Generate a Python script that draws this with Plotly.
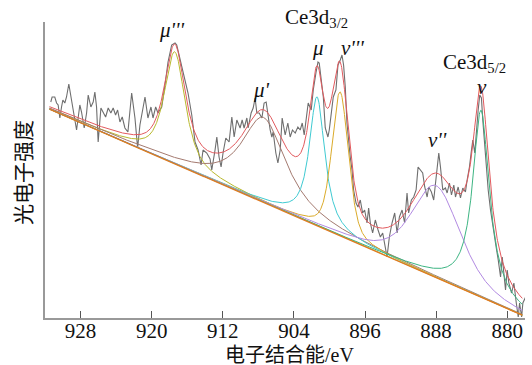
import numpy as np
import plotly.graph_objects as go

# ---------------- data ----------------
energy = [931.35, 931.20, 930.90, 930.70, 930.52, 930.33, 930.14, 929.99, 929.77, 929.58,
          929.32, 929.09, 928.87, 928.45, 928.08, 927.89, 927.59, 927.32, 927.14, 926.84,
          926.58, 926.39, 926.20, 926.02, 925.71, 925.45, 925.18, 924.89, 924.59, 924.33,
          924.06, 923.83, 923.57, 923.31, 923.01, 922.67, 922.25, 921.88, 921.58, 921.32,
          920.75, 920.42, 920.08, 919.85, 919.55, 919.29, 918.87, 918.50, 918.16, 917.75,
          917.37, 917.18, 916.81, 916.25, 915.91, 915.49, 915.12, 914.78, 914.44, 914.22,
          913.80, 913.43, 913.24, 912.87, 912.67, 912.42, 912.19, 911.97, 911.66, 911.29,
          910.98, 910.72, 910.42, 910.05, 909.82, 909.60, 909.29, 909.15, 908.81, 908.58,
          908.36, 908.17, 907.91, 907.60, 907.35, 907.12, 906.89, 906.67, 906.48, 906.33,
          906.03, 905.80, 905.54, 905.32, 904.98, 904.68, 904.42, 904.16, 903.85, 903.55,
          903.29, 903.06, 902.84, 902.53, 902.39, 902.05, 901.82, 901.52, 901.29, 901.15,
          900.92, 900.69, 900.47, 900.17, 900.02, 899.72, 899.57, 899.27, 899.04, 898.78,
          898.59, 898.41, 898.22, 898.03, 897.85, 897.66, 897.46, 897.28, 897.01, 896.79,
          896.53, 896.27, 896.04, 895.77, 895.59, 895.40, 895.14, 894.84, 894.53, 894.27,
          894.01, 893.71, 893.52, 893.26, 892.96, 892.66, 892.39, 892.13, 891.83, 891.54,
          891.27, 891.09, 890.78, 890.52, 890.25, 890.03, 889.77, 889.51, 889.28, 889.01,
          888.83, 888.53, 888.27, 888.00, 887.70, 887.51, 887.25, 886.95, 886.76, 886.50,
          886.27, 886.01, 885.82, 885.52, 885.26, 885.00, 884.70, 884.51, 884.25, 884.02,
          883.87, 883.65, 883.49, 883.27, 883.09, 882.90, 882.75, 882.44, 882.14, 881.88,
          881.62, 881.32, 881.01, 880.75, 880.56, 880.38, 880.19, 880.00, 879.82, 879.51,
          879.25, 878.98, 878.76, 878.61, 878.38, 878.24, 877.93]

intensity = [216, 221, 221, 215, 213, 200, 211, 218, 215, 221,
             234, 221, 211, 188, 213, 206, 190, 205, 223, 211,
             216, 226, 211, 176, 210, 205, 201, 210, 205, 210,
             203, 208, 196, 201, 190, 186, 225, 200, 170, 193,
             221, 200, 211, 200, 211, 205, 211, 233, 256, 273,
             275, 273, 258, 236, 225, 203, 176, 168, 153, 168,
             165, 159, 148, 168, 181, 161, 151, 165, 180, 176,
             201, 181, 198, 190, 198, 190, 200, 190, 205, 210,
             220, 205, 205, 200, 215, 216, 201, 188, 181, 186,
             165, 155, 168, 200, 183, 195, 181, 188, 185, 191,
             188, 195, 183, 203, 215, 208, 228, 245, 256, 255,
             238, 221, 190, 181, 188, 211, 221, 228, 253, 258,
             263, 253, 231, 195, 175, 161, 148, 128, 115, 111,
             118, 105, 108, 95, 110, 95, 85, 98, 88, 81,
             85, 71, 61, 81, 95, 105, 85, 101, 108, 95,
             125, 105, 118, 121, 128, 151, 148, 145, 131, 121,
             131, 126, 118, 138, 165, 151, 128, 130, 125, 135,
             123, 133, 121, 131, 120, 130, 126, 138, 151, 168,
             178, 165, 188, 208, 223, 220, 198, 158, 128, 108,
             91, 75, 58, 41, 61, 41, 28, 48, 35, 25,
             35, 15, 1, 15, 1, 15, 21]

# fitted components (pseudo-Voigt peaks on a linear background)
peak_names = ["μ'''", "μ'", "μ", "ν'''", "ν''", "ν"]
peak_centers = [917.4, 907.4, 901.4, 898.8, 888.0, 882.95]
peak_heights = [112, 85, 129, 144, 92, 187]
peak_fwhm = [2.8, 6.0, 2.1, 2.2, 6.5, 2.3]
peak_eta = [0.75, 0.9, 0.9, 0.45, 0.5, 1.0]
peak_colors = ["#b9b92e", "#a47a70", "#3fcad2", "#dbab2a", "#b28ae2", "#3db583"]

bg_energy = [931.5, 878.3]
bg_intensity = [208.8, 2.8]

x_ticks = [928, 920, 912, 904, 896, 888, 880]

# ---------------- build curves ----------------
grid = np.linspace(bg_energy[0], bg_energy[1], 1200)
bg = np.interp(grid, bg_energy[::-1], bg_intensity[::-1])


def pvoigt(e, c, h, f, eta):
    g = np.exp(-4 * np.log(2) * ((e - c) / f) ** 2)
    l = 1.0 / (1.0 + 4 * ((e - c) / f) ** 2)
    return h * (eta * l + (1 - eta) * g)


comps = [pvoigt(grid, c, h, f, et) for c, h, f, et in
         zip(peak_centers, peak_heights, peak_fwhm, peak_eta)]
envelope = bg + np.sum(comps, axis=0)

fig = go.Figure()
fig.add_trace(go.Scatter(x=energy, y=intensity, mode="lines",
                         line=dict(color="#6e6e6e", width=1.1), showlegend=False))
for comp, col in zip(comps, peak_colors):
    fig.add_trace(go.Scatter(x=grid, y=bg + comp, mode="lines",
                             line=dict(color=col, width=1), showlegend=False))
fig.add_trace(go.Scatter(x=grid, y=bg, mode="lines",
                         line=dict(color="#e07a22", width=1.3), showlegend=False))
fig.add_trace(go.Scatter(x=grid, y=envelope, mode="lines",
                         line=dict(color="#e25a5e", width=1), showlegend=False))

serif = "Liberation Serif, Times New Roman, serif"
cjk = "Liberation Serif, Noto Sans CJK SC, serif"

# label x in eV, y in fraction of plot height
labels = [
    ("<i>μ'''</i>", 917.7, 0.973),
    ("<i>μ'</i>", 907.6, 0.770),
    ("<i>μ</i>", 901.3, 0.912),
    ("<i>ν'''</i>", 897.4, 0.912),
    ("<i>ν''</i>", 887.9, 0.601),
    ("<i>ν</i>", 882.8, 0.782),
    ("Ce3d<sub>3/2</sub>", 901.5, 1.0135),
    ("Ce3d<sub>5/2</sub>", 883.7, 0.862),
]
for txt, xx, yy in labels:
    fig.add_annotation(x=xx, y=yy, xref="x", yref="paper", text=txt, showarrow=False,
                       xanchor="center", yanchor="middle",
                       font=dict(family=serif, size=21, color="#111"))

fig.add_annotation(x=0.51, y=-0.125, xref="paper", yref="paper", text="电子结合能/eV",
                   showarrow=False, xanchor="center", yanchor="middle",
                   font=dict(family=cjk, size=20, color="#111"))
fig.add_annotation(x=-0.044, y=0.493, xref="paper", yref="paper", text="光电子强度",
                   showarrow=False, textangle=-90, xanchor="center", yanchor="middle",
                   font=dict(family=cjk, size=21, color="#111"))

fig.update_layout(
    width=532, height=365,
    margin=dict(l=45, r=7, t=22, b=47, autoexpand=False),
    plot_bgcolor="white", paper_bgcolor="white",
    xaxis=dict(range=[932, 878], tickvals=x_ticks, ticks="inside", ticklen=7,
               tickcolor="#555", showline=True, linecolor="#999", linewidth=1.5,
               showgrid=False, zeroline=False, automargin=False,
               ticklabelstandoff=-7,
               tickfont=dict(family=serif, size=21, color="#111")),
    yaxis=dict(range=[0, 296], showline=True, linecolor="#999", linewidth=1.5,
               showticklabels=False, ticks="", showgrid=False, zeroline=False,
               automargin=False),
)

fig.write_html("out.html")
